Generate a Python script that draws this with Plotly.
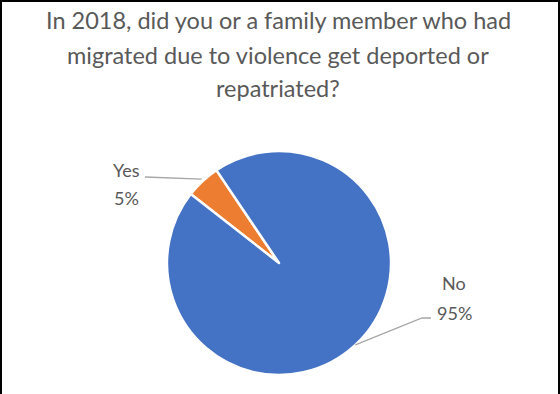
import math
import plotly.graph_objects as go

labels = ["Yes", "No"]
values = [5, 95]
colors = ["#ED7D31", "#4472C4"]
title_lines = [
    "In 2018, did you or a family member who had",
    "migrated due to violence get deported or",
    "repatriated?",
]

W, H = 560, 394
cx, cy, r = 279, 263, 112
rotation = -52

def px(x):
    return x / W

def py(y):
    return 1 - y / H

fig = go.Figure(go.Pie(
    labels=labels, values=values, sort=False, direction="clockwise",
    rotation=rotation, textinfo="none", hoverinfo="label+percent",
    marker=dict(colors=colors, line=dict(color="white", width=2.5)),
    domain=dict(x=[px(cx - r), px(cx + r)], y=[py(cy + r), py(cy - r)]),
    showlegend=False,
))

# slice mid angles (clockwise from 12 o'clock)
total = sum(values)
mids = []
acc = rotation
for v in values:
    span = 360 * v / total
    mids.append(acc + span / 2)
    acc += span

def edge(a):
    t = math.radians(a)
    return cx + r * math.sin(t), cy - r * math.cos(t)

shapes = []
annotations = []
# title
for i, (line, yc) in enumerate(zip(title_lines, [20, 55, 88])):
    annotations.append(dict(text=line, x=px(278), y=py(yc), xref="paper", yref="paper",
                            xanchor="center", yanchor="middle", showarrow=False,
                            font=dict(family="Lato", size=23.5, color="#595959")))

label_pos = {"Yes": (126, 170, 198), "No": (454, 283, 313)}
pct = [round(100 * v / total) for v in values]
for lab, p, m in zip(labels, pct, mids):
    lx, y1, y2 = label_pos[lab]
    annotations.append(dict(text=lab, x=px(lx), y=py(y1), xref="paper", yref="paper",
                            xanchor="center", yanchor="middle", showarrow=False,
                            font=dict(family="Lato", size=18, color="#595959")))
    annotations.append(dict(text=f"{p}%", x=px(lx), y=py(y2), xref="paper", yref="paper",
                            xanchor="center", yanchor="middle", showarrow=False,
                            font=dict(family="Lato", size=18, color="#595959")))
    ex, ey = edge(m)
    if lab == "Yes":
        path = f"M {px(145)} {py(177)} L {px(ex - 1)} {py(ey - 2)}"
    else:
        path = f"M {px(431)} {py(318)} L {px(422)} {py(318)} L {px(ex)} {py(ey)}"
    shapes.append(dict(type="path", path=path, xref="paper", yref="paper",
                       line=dict(color="#A6A6A6", width=1.3)))

# frame (left, top, right)
shapes.append(dict(type="path", xref="paper", yref="paper",
                   path=f"M {px(1)} 0 L {px(1)} {py(1)} L {px(559)} {py(1)} L {px(559)} 0",
                   line=dict(color="black", width=2)))

fig.update_layout(
    width=W, height=H, margin=dict(l=0, r=0, t=0, b=0),
    paper_bgcolor="white", plot_bgcolor="white",
    shapes=shapes, annotations=annotations,
)
fig.write_html("out.html")
